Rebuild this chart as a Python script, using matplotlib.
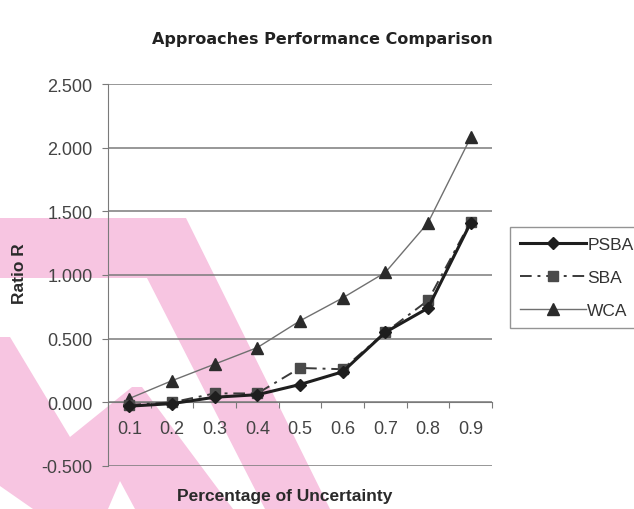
import matplotlib
matplotlib.use("Agg")
import matplotlib.pyplot as plt
from matplotlib.patches import Polygon

# Data
categories = ['0.1', '0.2', '0.3', '0.4', '0.5', '0.6', '0.7', '0.8', '0.9']
psba = [-0.03, -0.01, 0.04, 0.06, 0.14, 0.24, 0.55, 0.74, 1.41]
sba = [-0.02, 0.00, 0.07, 0.07, 0.27, 0.26, 0.55, 0.80, 1.42]
wca = [0.03, 0.17, 0.30, 0.43, 0.64, 0.82, 1.02, 1.41, 2.08]
yticks = [-0.5, 0.0, 0.5, 1.0, 1.5, 2.0, 2.5]

# pink watermark outline in pixel space (decoration of the scanned page)
wm_band = [(0, 219), (186, 219), (330, 510), (265, 510), (147, 279), (0, 279)]
wm_left = [(0, 338), (10, 338), (70, 438), (132, 388), (142, 388), (233, 510),
           (135, 510), (120, 482), (108, 510), (33, 510), (0, 487)]

plt.rcParams['font.family'] = ['Liberation Sans', 'DejaVu Sans']

W, H = 634, 510
fig = plt.figure(figsize=(W / 100, H / 100), dpi=100)
fig.patch.set_facecolor('white')

# watermark layer
bg = fig.add_axes([0, 0, 1, 1], zorder=0)
bg.set_xlim(0, W)
bg.set_ylim(H, 0)
bg.axis('off')
for pts in (wm_band, wm_left):
    bg.add_patch(Polygon(pts, closed=True, facecolor='#f7c5e1', edgecolor='none'))

ax = fig.add_axes([108 / W, 1 - 467 / H, 384 / W, 382 / H], zorder=1)
ax.set_facecolor('none')

x = list(range(len(categories)))
ax.plot(x, wca, color='#707070', lw=1.0, marker='^', markersize=8,
        markerfacecolor='#2b2b2b', markeredgecolor='#2b2b2b', label='WCA', zorder=3)
ax.plot(x, sba, color='#3a3a3a', lw=1.4, linestyle=(0, (6, 3, 1.5, 3)), marker='s',
        markersize=7, markerfacecolor='#4a4a4a', markeredgecolor='#4a4a4a', label='SBA', zorder=4)
ax.plot(x, psba, color='#1e1e1e', lw=2.2, marker='D', markersize=6,
        markerfacecolor='#1e1e1e', markeredgecolor='#1e1e1e', label='PSBA', zorder=5)

ax.set_xlim(-0.5, len(categories) - 0.5)
ax.set_ylim(-0.5, 2.5)
ax.set_yticks(yticks)
ax.set_yticklabels([f'{v:.3f}' for v in yticks])
ax.yaxis.grid(True, color='#7a7a7a', lw=1.1)
ax.set_axisbelow(True)

for s in ('top', 'right'):
    ax.spines[s].set_visible(False)
ax.spines['left'].set_color('#7a7a7a')
ax.spines['bottom'].set_position(('data', 0))
ax.spines['bottom'].set_color('#7a7a7a')

# ticks between categories, labels at category centres
ax.set_xticks([i - 0.5 for i in range(len(categories) + 1)])
ax.set_xticklabels([])
ax.set_xticks(x, minor=True)
ax.set_xticklabels(categories, minor=True)
ax.tick_params(axis='x', which='major', direction='out', length=4, color='#7a7a7a')
ax.tick_params(axis='x', which='minor', length=0, pad=13, labelsize=13, labelcolor='#444444')
ax.tick_params(axis='y', direction='out', length=4, color='#7a7a7a', pad=7,
               labelsize=13, labelcolor='#444444')

fig.text(322 / W, 1 - 40 / H, 'Approaches Performance Comparison', ha='center', va='center',
         fontsize=11.5, fontweight='bold', color='#222222', family=['DejaVu Sans'])
fig.text(19 / W, 1 - 274 / H, 'Ratio R', ha='center', va='center', rotation=90,
         fontsize=12.5, fontweight='bold', color='#2a2a2a')
fig.text(285 / W, 1 - 497 / H, 'Percentage of Uncertainty', ha='center', va='center',
         fontsize=12.5, fontweight='bold', color='#2a2a2a')

handles, labels = ax.get_legend_handles_labels()
order = [2, 1, 0]
leg = ax.legend([handles[i] for i in order], [labels[i] for i in order],
                loc='upper left', bbox_to_anchor=(510 / W, 1 - 228 / H),
                bbox_transform=fig.transFigure, frameon=True, fancybox=False,
                fontsize=12.5, handlelength=3.8, handletextpad=0.1, labelspacing=1.05,
                borderpad=0.55, borderaxespad=0)
leg.get_frame().set_edgecolor('#7a7a7a')
leg.get_frame().set_linewidth(1.0)
for t in leg.get_texts():
    t.set_color('#333333')

fig.savefig('out.png', dpi=100)
